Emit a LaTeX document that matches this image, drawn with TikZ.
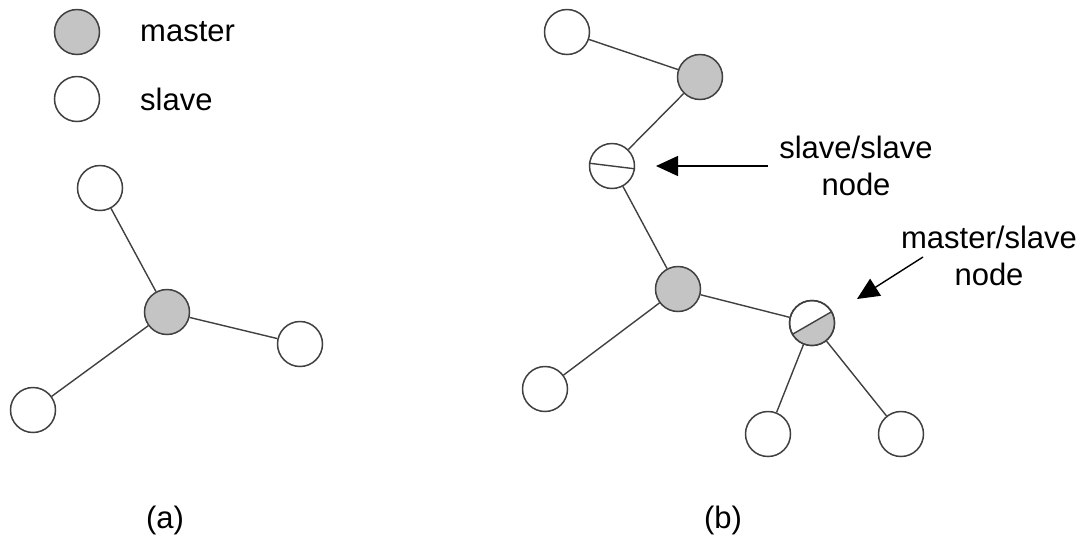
\documentclass[tikz,border=0pt]{standalone}
\usepackage{fontspec}
\setmainfont{Liberation Sans}
\usetikzlibrary{arrows.meta}
\definecolor{edgec}{HTML}{404040}
\definecolor{mfill}{HTML}{C4C4C4}
\begin{document}
\begin{tikzpicture}[x=1pt,y=-1pt,
  nd/.style={circle,draw=edgec,line width=1.5pt,minimum size=45pt,inner sep=0pt},
  mst/.style={nd,fill=mfill},
  slv/.style={nd,fill=white},
  link/.style={draw=edgec,line width=1.4pt},
  pointer/.style={draw=black,line width=1.4pt,-{Triangle[length=22pt,width=20pt]}},
  lbl/.style={font=\fontsize{31}{37}\selectfont,align=center,inner sep=0pt}
]
\useasboundingbox (0,0) rectangle (1086,542);
% legend
\node[mst] (lm) at (77,32) {};
\node[slv] (ls) at (77,99) {};
\node[lbl,anchor=west] (tm) at (140,32) {master};
\node[lbl,anchor=west] (ts) at (140,99) {slave};
% (a)
\node[mst] (a0) at (167,312) {};
\node[slv] (a1) at (100,188) {};
\node[slv] (a2) at (300,344) {};
\node[slv] (a3) at (33,410) {};
\draw[link] (a0) -- (a1);
\draw[link] (a0) -- (a2);
\draw[link] (a0) -- (a3);
% (b)
\node[slv] (b1) at (567,32) {};
\node[mst] (b2) at (700,77) {};
\node[slv] (b3) at (612,166) {};
\node[mst] (b4) at (678,289) {};
\node[slv] (b5) at (545,389) {};
\node[slv] (b6) at (812,323) {};
\node[slv] (b7) at (768,434) {};
\node[slv] (b8) at (901,434) {};
% split of slave/slave node
\draw[edgec,line width=1.4pt] (b3.173) -- (b3.-7);
% split of master/slave node
\fill[mfill] (b6.center) ++(210:21.8pt) arc[start angle=210,end angle=390,radius=21.8pt] -- cycle;
\draw[edgec,line width=1.5pt] (b6) circle[radius=22.5pt];
\draw[edgec,line width=1.4pt] (b6.210) -- (b6.30);
\draw[link] (b1) -- (b2);
\draw[link] (b2) -- (b3);
\draw[link] (b3) -- (b4);
\draw[link] (b4) -- (b5);
\draw[link] (b4) -- (b6);
\draw[link] (b6) -- (b7);
\draw[link] (b6) -- (b8);
% annotations
\node[lbl] (tss) at (856,166) {slave/slave\\node};
\node[lbl] (tms) at (989,256) {master/slave\\node};
\coordinate (p1) at (768,166);
\coordinate (q1) at (656,166);
\coordinate (p2) at (923,257);
\coordinate (q2) at (857,299);
\draw[pointer] (p1) -- (q1);
\draw[pointer] (p2) -- (q2);
% captions
\node[lbl] (ca) at (165,520) {(a)};
\node[lbl] (cb) at (723,520) {(b)};
\end{tikzpicture}
\end{document}
